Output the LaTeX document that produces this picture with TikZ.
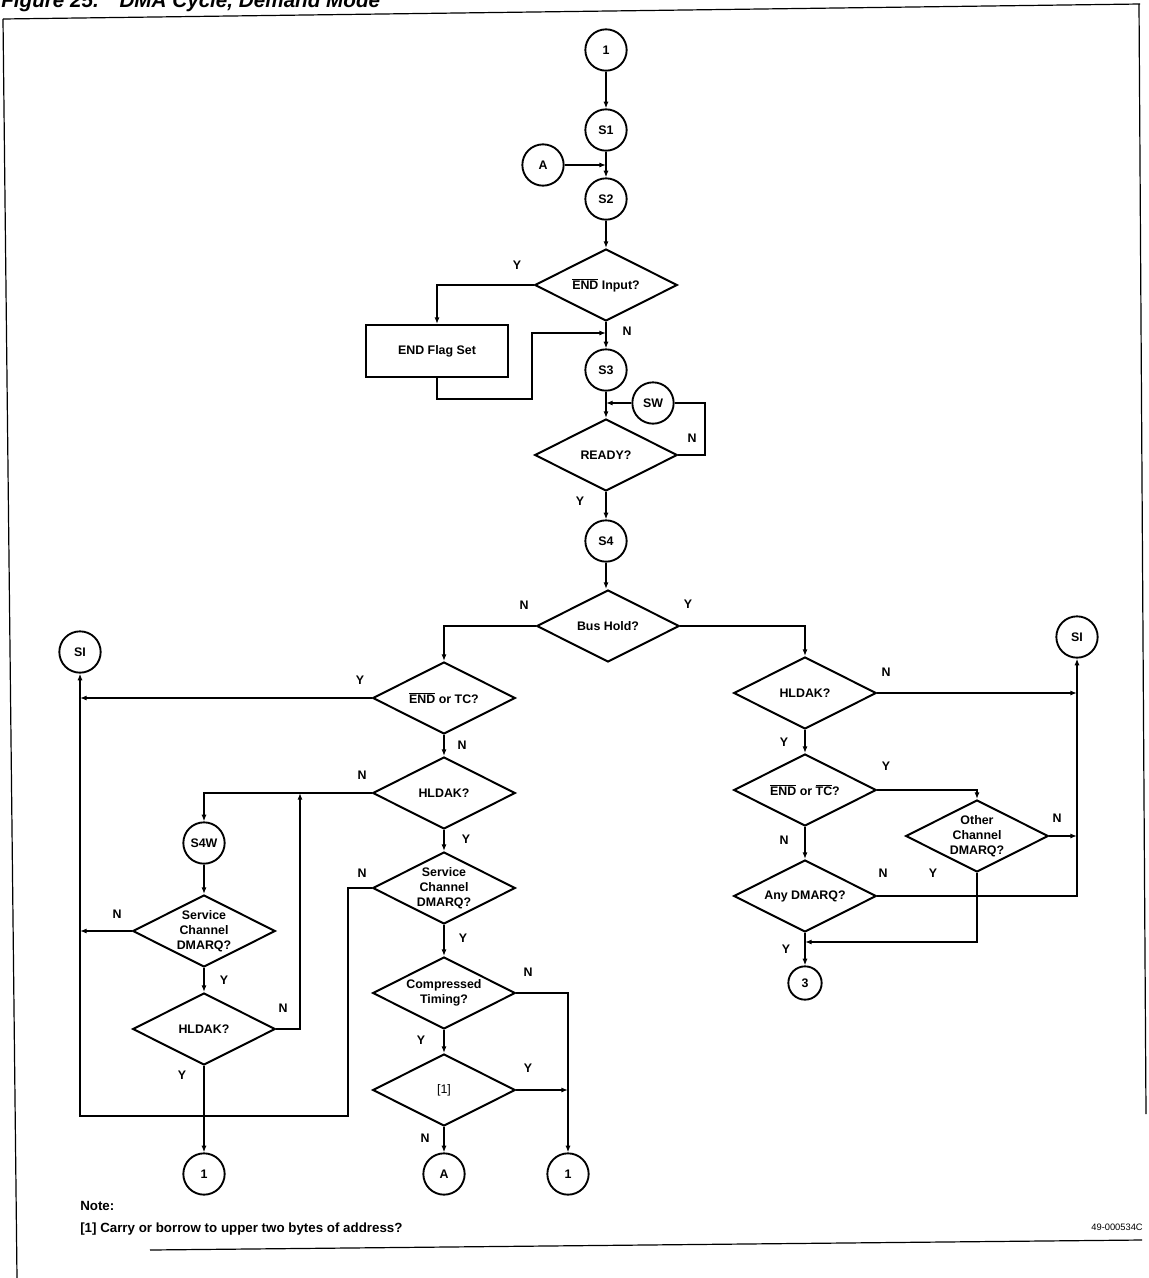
\documentclass[tikz,border=0pt]{standalone}
\usepackage{fontspec}
\setmainfont{Liberation Sans}
\usetikzlibrary{shapes.geometric,arrows.meta}
\newcommand{\ovl}[1]{\ensuremath{\overline{\mbox{#1}}}}
\begin{document}
\begin{tikzpicture}[x=0.75pt,y=-0.75pt,
  font=\fontsize{9.3}{11.2}\selectfont\bfseries,
  dia/.style={diamond, draw, line width=1.5pt, inner sep=0pt, aspect=2,
              minimum width=107pt, minimum height=54pt},
  stt/.style={circle, draw, line width=1.4pt, inner sep=0pt, minimum size=31pt},
  boxx/.style={rectangle, draw, line width=1.5pt, minimum width=107pt, minimum height=39pt},
  txt/.style={align=center, inner sep=0pt},
  lab/.style={inner sep=0pt},
  conn/.style={line width=1.15pt},
  arr/.style={conn, -{Latex[length=5pt,width=3.8pt]}},
  frame/.style={line width=0.9pt}
]
\useasboundingbox (0,0) rectangle (1149,1278);

% frame and title
\node[anchor=base west, inner sep=0pt, font=\fontsize{15.5}{18}\selectfont\bfseries\itshape] (title) at (1,7) {Figure 25.\quad DMA Cycle, Demand Mode};
\draw[frame] (3,19) -- (1140,4);
\draw[frame] (3,19) -- (17,1278);
\draw[frame] (1139,4) -- (1146,1114);
\draw[frame] (150,1250) -- (1142,1240);

% top column
\node[stt] (c1) at (606,50) {1};
\node[stt] (s1) at (606,130) {S1};
\node[stt] (cA1) at (543,165) {A};
\node[stt] (s2) at (606,199) {S2};
\node[dia] (endin) at (606,285) {};
\node[txt] (endin-t) at (endin) {\ovl{END} Input?};
\node[boxx] (flag) at (437,351) {END Flag Set};
\node[stt] (s3) at (606,370) {S3};
\node[stt] (sw) at (653,403) {SW};
\node[dia] (ready) at (606,455) {};
\node[txt] (ready-t) at (ready) {READY?};
\node[stt] (s4) at (606,541) {S4};
\node[dia] (bus) at (608,626) {};
\node[txt] (bus-t) at (bus) {Bus Hold?};

% left / middle
\node[stt] (si1) at (80,652) {SI};
\node[dia] (endtc) at (444,698) {};
\node[txt] (endtc-t) at (endtc) {\ovl{END} or TC?};
\node[dia] (hl1) at (444,793) {};
\node[txt] (hl1-t) at (hl1) {HLDAK?};
\node[stt] (s4w) at (204,843) {S4W};
\node[dia] (scd1) at (444,888) {};
\node[txt] (scd1-t) at (scd1) {Service\\Channel\\DMARQ?};
\node[dia] (scd2) at (204,931) {};
\node[txt] (scd2-t) at (scd2) {Service\\Channel\\DMARQ?};
\node[dia] (hl2) at (204,1029) {};
\node[txt] (hl2-t) at (hl2) {HLDAK?};
\node[dia] (comp) at (444,993) {};
\node[txt] (comp-t) at (comp) {Compressed\\Timing?};
\node[dia] (br) at (444,1090) {};
\node[txt, font=\fontsize{9.3}{11.2}\selectfont] (br-t) at (br) {[1]};
\node[stt] (c1b) at (204,1174) {1};
\node[stt] (cA2) at (444,1174) {A};
\node[stt] (c1c) at (568,1174) {1};

% right
\node[dia] (hl3) at (805,693) {};
\node[txt] (hl3-t) at (hl3) {HLDAK?};
\node[stt] (si2) at (1077,637) {SI};
\node[dia] (endtc2) at (805,790) {};
\node[txt] (endtc2-t) at (endtc2) {\ovl{END} or \ovl{TC}?};
\node[dia] (oth) at (977,836) {};
\node[txt] (oth-t) at (oth) {Other\\Channel\\DMARQ?};
\node[dia] (any) at (805,896) {};
\node[txt] (any-t) at (any) {Any DMARQ?};
\node[stt, minimum size=25pt] (c3) at (805,983) {3};

% junction coordinates
\coordinate (jflag) at (606,333);
\coordinate (jrdy) at (705,403);
\coordinate (jhl2) at (300,793);
\coordinate (jscd) at (348,1116);
\coordinate (jany) at (805,942);

% connectors: top
\draw[arr] (c1) -- (s1);
\draw[arr] (cA1) -- (cA1 -| s1);
\draw[arr] (s1) -- (s2);
\draw[arr] (s2) -- (endin);
\draw[arr] (endin.west) -| (flag.north);
\draw[arr] (endin) -- (s3);
\draw[arr] (flag.south) -- ++(0,21) -| (532,333) -- (jflag);
\draw[arr] (s3) -- (ready);
\draw[arr] (sw) -- (sw -| s3);
\draw[conn] (ready.east) -| (jrdy) -- (sw.east);
\draw[arr] (ready) -- (s4);
\draw[arr] (s4) -- (s4 |- bus.north);
\draw[arr] (bus.west) -| (endtc.north);
\draw[arr] (bus.east) -| (hl3.north);

% left / middle
\draw[arr] (endtc.west) -- (endtc -| si1);
\draw[arr] (endtc) -- (hl1);
\draw[arr] (hl1.west) -| (s4w.north);
\draw[arr] (hl1) -- (scd1);
\draw[arr] (s4w) -- (scd2);
\draw[arr] (scd2.west) -- (scd2 -| si1);
\draw[arr] (scd2) -- (hl2);
\draw[arr] (hl2.east) -| (jhl2);
\draw[arr] (hl2) -- (c1b);
\draw[arr] (scd1.west) -| (jscd) -| (si1.south);
\draw[arr] (scd1) -- (comp);
\draw[arr] (comp.east) -| (c1c.north);
\draw[arr] (comp) -- (br);
\draw[arr] (br.east) -- (br -| c1c);
\draw[arr] (br) -- (cA2);

% right
\draw[arr] (hl3.east) -- (hl3 -| si2);
\draw[arr] (any.east) -| (si2.south);
\draw[arr] (hl3) -- (endtc2);
\draw[arr] (endtc2.east) -| (oth.north);
\draw[arr] (endtc2) -- (any);
\draw[arr] (oth.east) -- (oth -| si2);
\draw[arr] (oth.south) |- (jany);
\draw[arr] (any) -- (c3);

% Y / N labels
\node[lab] (l1) at (517,265) {Y};
\node[lab] (l2) at (627,331) {N};
\node[lab] (l3) at (692,438) {N};
\node[lab] (l4) at (580,501) {Y};
\node[lab] (l5) at (524,605) {N};
\node[lab] (l6) at (688,604) {Y};
\node[lab] (l7) at (360,680) {Y};
\node[lab] (l8) at (462,745) {N};
\node[lab] (l9) at (362,775) {N};
\node[lab] (l10) at (466,839) {Y};
\node[lab] (l11) at (362,873) {N};
\node[lab] (l12) at (463,938) {Y};
\node[lab] (l13) at (117,914) {N};
\node[lab] (l14) at (224,980) {Y};
\node[lab] (l15) at (283,1008) {N};
\node[lab] (l16) at (182,1075) {Y};
\node[lab] (l17) at (528,972) {N};
\node[lab] (l18) at (421,1040) {Y};
\node[lab] (l19) at (528,1068) {Y};
\node[lab] (l20) at (425,1138) {N};
\node[lab] (l21) at (886,672) {N};
\node[lab] (l22) at (784,742) {Y};
\node[lab] (l23) at (886,766) {Y};
\node[lab] (l24) at (784,840) {N};
\node[lab] (l25) at (1057,818) {N};
\node[lab] (l26) at (933,873) {Y};
\node[lab] (l27) at (883,873) {N};
\node[lab] (l28) at (786,949) {Y};

% note
\node[anchor=base west, inner sep=0pt, font=\fontsize{10}{12}\selectfont\bfseries] (note) at (80,1210) {Note:};
\node[anchor=base west, inner sep=0pt, font=\fontsize{10}{12}\selectfont\bfseries] (note1) at (80,1232) {[1] Carry or borrow to upper two bytes of address?};
\node[anchor=base east, inner sep=0pt, font=\fontsize{7}{8}\selectfont] (fid) at (1143,1230) {49-000534C};
\end{tikzpicture}
\end{document}
